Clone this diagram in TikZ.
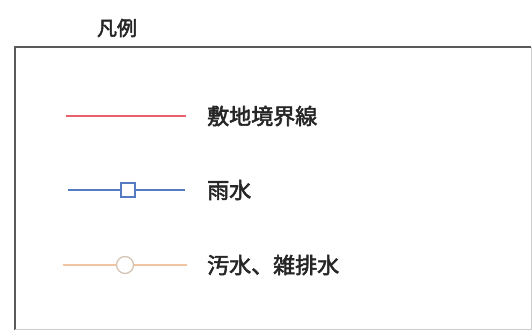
\documentclass[tikz,border=0pt]{standalone}
\usepackage{fontspec}
\newfontfamily\cjk[FakeBold=2.5]{Noto Sans CJK JP}
\definecolor{bndred}{RGB}{232,96,108}
\definecolor{rainblue}{RGB}{84,124,192}
\definecolor{sewor}{RGB}{242,196,160}
\definecolor{sewcirc}{RGB}{214,196,180}
\definecolor{framegray}{RGB}{90,90,90}
\begin{document}
\begin{tikzpicture}[x=1pt,y=-1pt,
  lbl/.style={anchor=west,inner sep=0pt,font=\cjk\fontsize{22}{24}\selectfont,text=black!85},
  legline/.style={line width=1.3pt}]
\useasboundingbox (0,0) rectangle (532,331);
\node[inner sep=0pt,font=\cjk\fontsize{20}{22}\selectfont,text=black!85] (title) at (117,28) {凡例};
\draw[framegray,line width=1.2pt] (531,47) -- (15,47) -- (15,330);
\draw[black!20,line width=0.8pt] (15,329.5) -- (531,329.5) -- (531,47);
% boundary
\coordinate (r1) at (66,116);
\coordinate (r2) at (186,116);
\draw[bndred,legline] (r1) -- (r2);
\node[lbl] (t1) at (207,116) {敷地境界線};
% rain
\coordinate (b1) at (68,190);
\coordinate (b2) at (185,190);
\node[draw=rainblue,line width=1.1pt,fill=white,minimum size=14pt,inner sep=0pt] (sq) at (128,190) {};
\draw[rainblue,legline] (b1) -- (sq.west);
\draw[rainblue,legline] (sq.east) -- (b2);
\node[lbl] (t2) at (207,190) {雨水};
% sewage
\coordinate (o1) at (63,265);
\coordinate (o2) at (187,265);
\node[circle,draw=sewcirc,line width=1.3pt,fill=white,minimum size=17pt,inner sep=0pt] (ci) at (125,265) {};
\draw[sewor,legline] (o1) -- (ci.west);
\draw[sewor,legline] (ci.east) -- (o2);
\node[lbl] (t3) at (207,265) {汚水、雑排水};
\end{tikzpicture}
\end{document}
